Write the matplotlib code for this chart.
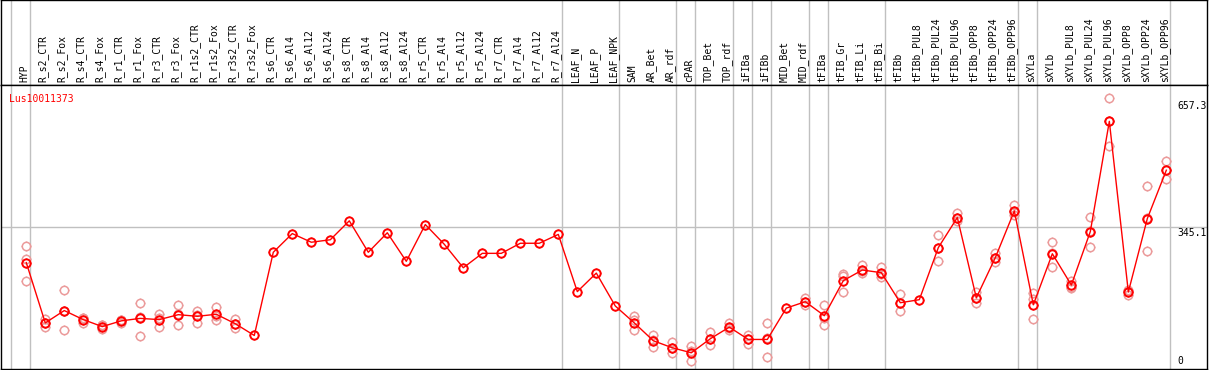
import numpy as np
import matplotlib
matplotlib.use("Agg")
import matplotlib.pyplot as plt
from matplotlib.path import Path

# данные
samples = ["HYP",
           "R_s2_CTR", "R_s2_Fox", "R_s4_CTR", "R_s4_Fox", "R_r1_CTR", "R_r1_Fox",
           "R_r3_CTR", "R_r3_Fox", "R_r1s2_CTR", "R_r1s2_Fox", "R_r3s2_CTR", "R_r3s2_Fox",
           "R_s6_CTR", "R_s6_Al4", "R_s6_Al12", "R_s6_Al24",
           "R_s8_CTR", "R_s8_Al4", "R_s8_Al12", "R_s8_Al24",
           "R_r5_CTR", "R_r5_Al4", "R_r5_Al12", "R_r5_Al24",
           "R_r7_CTR", "R_r7_Al4", "R_r7_Al12", "R_r7_Al24",
           "LEAF_N", "LEAF_P", "LEAF_NPK",
           "SAM", "AR_Bet", "AR_rdf", "cPAR", "TOP_Bet", "TOP_rdf",
           "iFIBa", "iFIBb", "MID_Bet", "MID_rdf",
           "tFIBa", "tFIB_Gr", "tFIB_Li", "tFIB_Bi",
           "tFIBb", "tFIBb_PUL8", "tFIBb_PUL24", "tFIBb_PUL96",
           "tFIBb_OPP8", "tFIBb_OPP24", "tFIBb_OPP96",
           "sXYLa", "sXYLb", "sXYLb_PUL8", "sXYLb_PUL24", "sXYLb_PUL96",
           "sXYLb_OPP8", "sXYLb_OPP24", "sXYLb_OPP96"]

group_sizes = [1, 28, 3, 3, 1, 2, 1, 1, 2, 1, 3, 7, 1, 7]

means = [258.5, 112, 142, 120, 103, 117, 123, 120, 132, 128, 133, 110, 81.5,
         283.6, 329, 308, 314, 360, 283.6, 331, 261.6, 351, 303, 246, 281,
         281, 305.5, 305.5, 327,
         188, 233, 153,
         112, 68.6, 51.6, 39.4, 73.5, 101.7, 71.8, 71.8, 148, 163.5,
         129.5, 214.7, 240.5, 234,
         161, 168.4, 295, 368, 173, 270.6, 384,
         156, 280, 204, 334, 601.7, 187, 365.6, 483]

replicates = [[298, 268, 213], [122, 112, 103], [191, 140, 95], [125, 123, 112],
              [107, 106, 96], [120, 120, 111], [161, 127, 81], [133, 124, 103],
              [155, 133, 108], [142, 131, 111], [151, 128, 120], [122, 109, 99],
              [], [], [], [], [], [], [], [], [], [], [], [], [], [], [], [], [],
              [], [], [],
              [128, 119, 94], [81.5, 70, 54], [65, 51, 38.5], [55.5, 44, 19],
              [89.6, 73, 58], [110.7, 100, 94.5], [82, 74, 59.6], [110.7, 75, 29.7],
              [], [173, 163, 155],
              [156, 125, 107.6], [232, 226, 188], [252.6, 237, 232.4], [247, 231, 224.5],
              [183, 160, 140.7], [], [326.6, 295, 263], [378.5, 366, 360],
              [187, 172, 160], [281, 270, 261], [398.7, 381, 373],
              [184, 169, 120.5], [309.6, 282, 248.7], [213.7, 200, 197.6],
              [370, 335, 297], [657.3, 602, 543], [192, 190, 181],
              [443.5, 366, 287.7], [505, 483, 461]]

gene = "Lus10011373"
y_labels = [657.3, 345.1, 0]

W, H = 1209, 370
fig = plt.figure(figsize=(W / 100, H / 100), dpi=100)
hdr = fig.add_axes([1 / W, 285 / H, 1206 / W, 85 / H])
ax = fig.add_axes([1 / W, 1 / H, 1206 / W, 284 / H], sharex=hdr)

x = np.arange(len(samples))
xmin, xmax = -1.33, 62.14
ax.set_xlim(xmin, xmax)
ax.set_ylim(0, 690)

for a in (hdr, ax):
    a.set_xticks([])
    a.set_yticks([])
    for s in a.spines.values():
        s.set_color("black")
        s.set_linewidth(1)

# границы групп
bounds = np.cumsum([0] + group_sizes) - 1 + 0.2
for b in bounds:
    hdr.axvline(b, color="#c0c0c0", lw=1, zorder=0)
    ax.axvline(b, color="#c0c0c0", lw=1, zorder=0)
ax.axhline(y_labels[1], color="#c0c0c0", lw=1, zorder=0)

# засечки вокруг кружка
ticks = Path([(0.72, 0), (1, 0), (-0.72, 0), (-1, 0), (0, 0.72), (0, 1), (0, -0.72), (0, -1)],
             [Path.MOVETO, Path.LINETO] * 4)

def points(xs, ys, col, mew, z, **kw):
    ax.plot(xs, ys, marker="o", ms=6, mfc="none", mec=col, mew=mew, zorder=z, **kw)
    ax.plot(xs, ys, ls="none", marker=ticks, ms=7.6, mec=col, mew=1, zorder=z)

for i, reps in enumerate(replicates):
    if reps:
        points([i] * len(reps), reps, "#eb9a9a", 1.1, 2, ls="none")
points(x, means, "red", 1.4, 3, color="red", lw=1)

mono = "DejaVu Sans Mono"
for i, s in enumerate(samples):
    hdr.text(i - 0.1, 0.04, s, rotation=90, ha="center", va="bottom",
             transform=hdr.get_xaxis_transform(), fontsize=7, family=mono)

ax.text(8 / W * (xmax - xmin) + xmin, 0.97, gene, color="red", fontsize=7,
        family=mono, va="top", ha="left", transform=ax.get_xaxis_transform())

xr = xmin + (1177 - 1) / 1206 * (xmax - xmin)
ax.text(xr, y_labels[0] - 5, f"{y_labels[0]:.1f}", fontsize=7, family=mono,
        va="top", ha="left", clip_on=False)
ax.text(xr, y_labels[1] - 3, f"{y_labels[1]:.1f}", fontsize=7, family=mono,
        va="top", ha="left", clip_on=False)
ax.text(xr, y_labels[2] + 8, f"{y_labels[2]}", fontsize=7, family=mono,
        va="bottom", ha="left", clip_on=False)

fig.savefig("out.png", dpi=100)
